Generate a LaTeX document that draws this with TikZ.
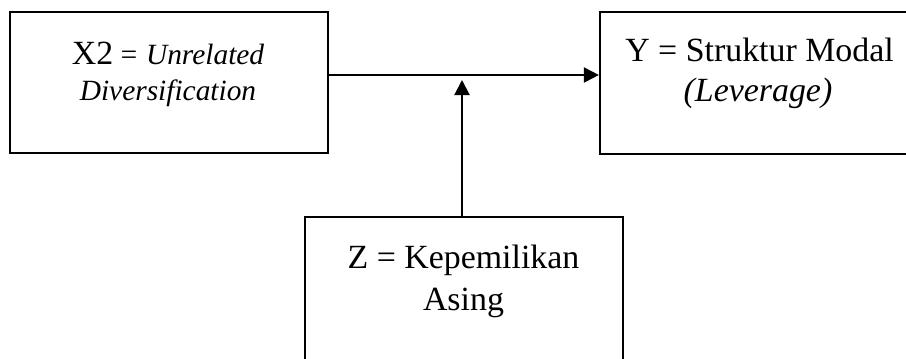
\documentclass[tikz,border=0pt]{standalone}
\usepackage{fontspec}
\setmainfont{Liberation Serif}
\usetikzlibrary{arrows.meta}
\tikzset{
  box/.style={draw=black, line width=2.2bp, rectangle, inner sep=0pt},
  conn/.style={line width=2bp, -{Triangle[length=15bp,width=15bp]}},
  txt/.style={anchor=base, inner sep=0pt, outer sep=0pt},
}
\newcommand{\bigsz}{\fontsize{34}{40}\selectfont}
\newcommand{\smsz}{\fontsize{29.5}{36}\selectfont}
\begin{document}
\begin{tikzpicture}[x=1bp,y=-1bp]
\useasboundingbox (0,0) rectangle (906,358);
\clip (0,0) rectangle (906,358);
% boxes
\node[box, minimum width=318bp, minimum height=141bp] (x2) at (169,82.5) {};
\node[box, minimum width=318bp, minimum height=142bp] (y) at (759,83) {};
\node[box, minimum width=318bp, minimum height=160bp] (z) at (464,297) {};
% texts
\node[txt] (x2a) at (168,64) {\bigsz X2\,\smsz\itshape = Unrelated};
\node[txt] (x2b) at (168,100) {\smsz\itshape Diversification};
\node[txt] (ya) at (759.5,61) {\bigsz Y = Struktur Modal};
\node[txt] (yb) at (758,101) {\bigsz\itshape (Leverage)};
\node[txt] (za) at (463.5,268) {\bigsz Z = Kepemilikan};
\node[txt] (zb) at (463.5,310) {\bigsz Asing};
% connectors
\coordinate (mid) at (462,80);
\draw[conn] (x2.east |- 0,75) -- (y.west |- 0,75);
\draw[conn] (z.north -| mid) -- (mid);
\end{tikzpicture}
\end{document}
